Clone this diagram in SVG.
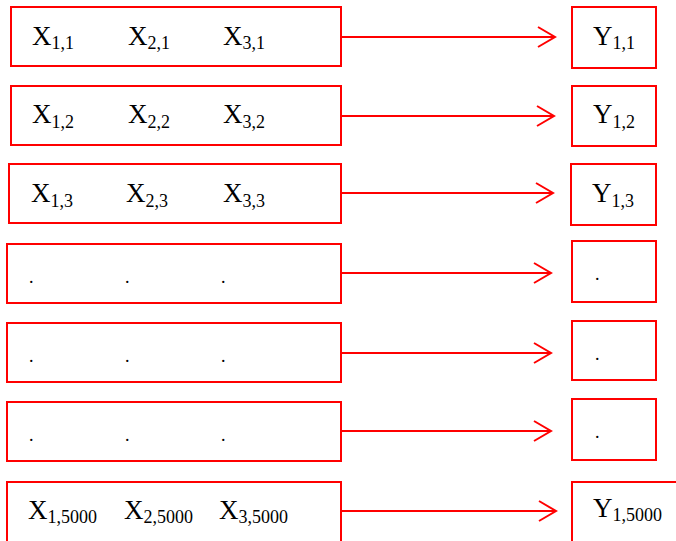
<svg xmlns="http://www.w3.org/2000/svg" width="676" height="541" viewBox="0 0 676 541">
<style>
.box{fill:#fff;stroke:#ff0000;stroke-width:2}
.t{font-family:"Liberation Serif","Times New Roman",serif;font-size:27px;fill:#000}
.s{font-size:18px}
.c{stroke:#ff0000;stroke-width:2;fill:none}
</style>
<defs>
<marker id="ah" markerUnits="userSpaceOnUse" markerWidth="20" markerHeight="24" refX="18" refY="12" orient="auto" viewBox="0 0 20 24">
<path d="M1,2 L18,12 L1,22" fill="none" stroke="#ff0000" stroke-width="2"/>
</marker>
</defs>
<g id="connectors">
<line class="c" x1="341" y1="37" x2="555" y2="37" marker-end="url(#ah)"/>
<line class="c" x1="341" y1="116" x2="554" y2="116" marker-end="url(#ah)"/>
<line class="c" x1="341" y1="193" x2="553" y2="193" marker-end="url(#ah)"/>
<line class="c" x1="341" y1="273" x2="551" y2="273" marker-end="url(#ah)"/>
<line class="c" x1="341" y1="353" x2="551" y2="353" marker-end="url(#ah)"/>
<line class="c" x1="341" y1="431" x2="551" y2="431" marker-end="url(#ah)"/>
<line class="c" x1="341" y1="511" x2="556" y2="511" marker-end="url(#ah)"/>
</g>
<g id="x1"><rect class="box" x="11" y="7" width="330" height="59"/>
<text class="t" x="32" y="45">X<tspan class="s" dy="4">1,1</tspan></text>
<text class="t" x="128" y="45">X<tspan class="s" dy="4">2,1</tspan></text>
<text class="t" x="223" y="45">X<tspan class="s" dy="4">3,1</tspan></text></g>
<g id="x2"><rect class="box" x="11" y="86" width="330" height="59"/>
<text class="t" x="32" y="123">X<tspan class="s" dy="5">1,2</tspan></text>
<text class="t" x="128" y="123">X<tspan class="s" dy="5">2,2</tspan></text>
<text class="t" x="223" y="123">X<tspan class="s" dy="5">3,2</tspan></text></g>
<g id="x3"><rect class="box" x="9" y="164" width="332" height="59"/>
<text class="t" x="31" y="202">X<tspan class="s" dy="5">1,3</tspan></text>
<text class="t" x="126" y="202">X<tspan class="s" dy="5">2,3</tspan></text>
<text class="t" x="223" y="202">X<tspan class="s" dy="5">3,3</tspan></text></g>
<g id="x4"><rect class="box" x="7" y="244" width="334" height="59"/>
<text class="t s" x="29" y="283">.</text>
<text class="t s" x="125" y="283">.</text>
<text class="t s" x="221" y="283">.</text></g>
<g id="x5"><rect class="box" x="7" y="323" width="334" height="59"/>
<text class="t s" x="29" y="362">.</text>
<text class="t s" x="125" y="362">.</text>
<text class="t s" x="221" y="362">.</text></g>
<g id="x6"><rect class="box" x="7" y="402" width="334" height="59"/>
<text class="t s" x="29" y="441">.</text>
<text class="t s" x="125" y="441">.</text>
<text class="t s" x="221" y="441">.</text></g>
<g id="x7"><rect class="box" x="7" y="482" width="334" height="60"/>
<text class="t" x="28" y="519">X<tspan class="s" dy="4">1,5000</tspan></text>
<text class="t" x="124" y="519">X<tspan class="s" dy="4">2,5000</tspan></text>
<text class="t" x="219" y="519">X<tspan class="s" dy="4">3,5000</tspan></text></g>
<g id="y1"><rect class="box" x="572" y="7" width="84" height="61"/>
<text class="t" x="593" y="45">Y<tspan class="s" dy="4">1,1</tspan></text></g>
<g id="y2"><rect class="box" x="572" y="86" width="84" height="60"/>
<text class="t" x="593" y="123">Y<tspan class="s" dy="5">1,2</tspan></text></g>
<g id="y3"><rect class="box" x="571" y="164" width="85" height="61"/>
<text class="t" x="592" y="202">Y<tspan class="s" dy="5">1,3</tspan></text></g>
<g id="y4"><rect class="box" x="572" y="241" width="84" height="61"/>
<text class="t s" x="595" y="280">.</text></g>
<g id="y5"><rect class="box" x="572" y="321" width="84" height="59"/>
<text class="t s" x="595" y="360">.</text></g>
<g id="y6"><rect class="box" x="572" y="399" width="84" height="61"/>
<text class="t s" x="595" y="438">.</text></g>
<g id="y7"><rect class="box" x="572" y="482" width="110" height="62"/>
<text class="t" x="593" y="517">Y<tspan class="s" dy="4">1,5000</tspan></text></g>
</svg>
